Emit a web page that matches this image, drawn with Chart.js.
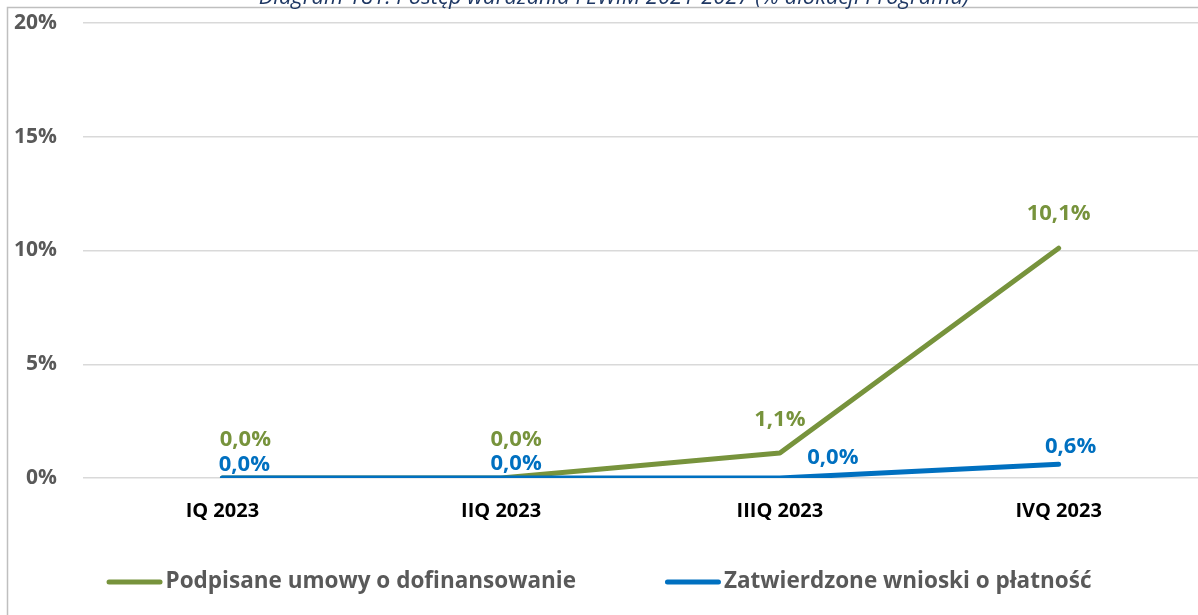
<!DOCTYPE html>
<html>
<head>
<meta charset="utf-8">
<script src="https://cdn.jsdelivr.net/npm/chart.js@4.4.1/dist/chart.umd.min.js"></script>
<style>
  html, body { margin: 0; padding: 0; background: #fff; }
  #wrap { position: relative; width: 1198px; height: 615px; }
</style>
</head>
<body>
<div id="wrap"><canvas id="progressChart"></canvas></div>
<script>
const quarters = ["IQ 2023", "IIQ 2023", "IIIQ 2023", "IVQ 2023"];
const signedContracts = [0.0, 0.0, 1.1, 10.1];
const approvedPayments = [0.0, 0.0, 0.0, 0.6];
const seriesNames = ["Podpisane umowy o dofinansowanie", "Zatwierdzone wnioski o płatność"];
const chartTitle = "Diagram 181. Postęp wdrażania FEWiM 2021-2027 (% alokacji Programu)";

const GREEN = "#77933C";
const BLUE = "#0070C0";
const GREY_TEXT = "#595959";
const FONT = "'Open Sans', Lato, sans-serif";

// where each value label sits relative to its point [dx, dy]
const labelOffsets = [
  [[23, -38], [15, -38], [0, -33], [0, -34]],
  [[22, -13], [15, -14], [53, -20], [12, -18]],
];

const fmtPct = (v) => v.toFixed(1).replace(".", ",") + "%";

// outer frame (only top and left edges fall inside the canvas) and the clipped title
const frameAndTitle = {
  id: "frameAndTitle",
  beforeDraw(chart) {
    const { ctx, width, height } = chart;
    ctx.save();
    ctx.strokeStyle = "#BFBFBF";
    ctx.lineWidth = 1.5;
    ctx.beginPath();
    ctx.moveTo(7.5, height);
    ctx.lineTo(7.5, 7.5);
    ctx.lineTo(width, 7.5);
    ctx.stroke();
    ctx.fillStyle = "#1F3864";
    ctx.font = "italic 22px " + FONT;
    ctx.textAlign = "center";
    ctx.textBaseline = "alphabetic";
    ctx.fillText(chartTitle, 614, 4);
    ctx.restore();
  },
};

const valueLabels = {
  id: "valueLabels",
  afterDatasetsDraw(chart) {
    const { ctx } = chart;
    ctx.save();
    ctx.font = "bold 22px " + FONT;
    ctx.textAlign = "center";
    ctx.textBaseline = "middle";
    chart.data.datasets.forEach((ds, i) => {
      const meta = chart.getDatasetMeta(i);
      ctx.fillStyle = ds.borderColor;
      meta.data.forEach((pt, j) => {
        const [dx, dy] = labelOffsets[i][j];
        ctx.fillText(fmtPct(ds.data[j]), pt.x + dx, pt.y + dy);
      });
    });
    ctx.restore();
  },
};

// line-swatch legend under the axis labels
const lineLegend = {
  id: "lineLegend",
  afterDraw(chart) {
    const { ctx, width } = chart;
    const swatch = 56, gap = 3, spacing = 89, y = 582;
    ctx.save();
    ctx.font = "bold 22.5px " + FONT;
    ctx.textBaseline = "middle";
    const items = chart.data.datasets.map((ds) => ({
      text: ds.label,
      color: ds.borderColor,
      w: ctx.measureText(ds.label).width,
    }));
    const total = items.reduce((s, it) => s + swatch + gap + it.w, 0) + spacing * (items.length - 1);
    let x = (width - total) / 2;
    items.forEach((it) => {
      ctx.strokeStyle = it.color;
      ctx.lineWidth = 5;
      ctx.lineCap = "round";
      ctx.beginPath();
      ctx.moveTo(x + 2.5, y);
      ctx.lineTo(x + swatch - 2.5, y);
      ctx.stroke();
      ctx.fillStyle = GREY_TEXT;
      ctx.fillText(it.text, x + swatch + gap, y);
      x += swatch + gap + it.w + spacing;
    });
    ctx.restore();
  },
};

const ctx = document.getElementById("progressChart").getContext("2d");
new Chart(ctx, {
  type: "line",
  data: {
    labels: quarters,
    datasets: [
      {
        label: seriesNames[0],
        data: signedContracts,
        borderColor: GREEN,
        backgroundColor: GREEN,
        borderWidth: 5,
        order: 1,
      },
      {
        label: seriesNames[1],
        data: approvedPayments,
        borderColor: BLUE,
        backgroundColor: BLUE,
        borderWidth: 5,
        order: 0,
      },
    ],
  },
  options: {
    responsive: true,
    maintainAspectRatio: false,
    animation: false,
    layout: {
      autoPadding: false,
      padding: { top: 23, left: 0, right: 0, bottom: 0 },
    },
    elements: {
      line: { tension: 0, borderCapStyle: "round", borderJoinStyle: "round" },
      point: { radius: 0, hoverRadius: 0 },
    },
    scales: {
      x: {
        offset: true,
        afterFit(scale) {
          scale.height = 137;
        },
        grid: { display: false, drawTicks: false },
        border: { display: false },
        ticks: {
          padding: 21,
          color: "#000",
          font: { family: FONT, size: 20, weight: "bold" },
        },
      },
      y: {
        min: 0,
        max: 20,
        afterFit(scale) {
          scale.width = 83;
          scale.paddingTop = 0;
          scale.paddingBottom = 0;
        },
        grid: { color: "#D9D9D9", lineWidth: 1.5, drawTicks: false },
        border: { display: false },
        ticks: {
          stepSize: 5,
          padding: 26,
          color: GREY_TEXT,
          font: { family: FONT, size: 21, weight: "bold" },
          callback: (v) => v + "%",
        },
      },
    },
    plugins: {
      legend: { display: false },
      tooltip: { enabled: false },
    },
  },
  plugins: [frameAndTitle, valueLabels, lineLegend],
});
</script>
</body>
</html>
